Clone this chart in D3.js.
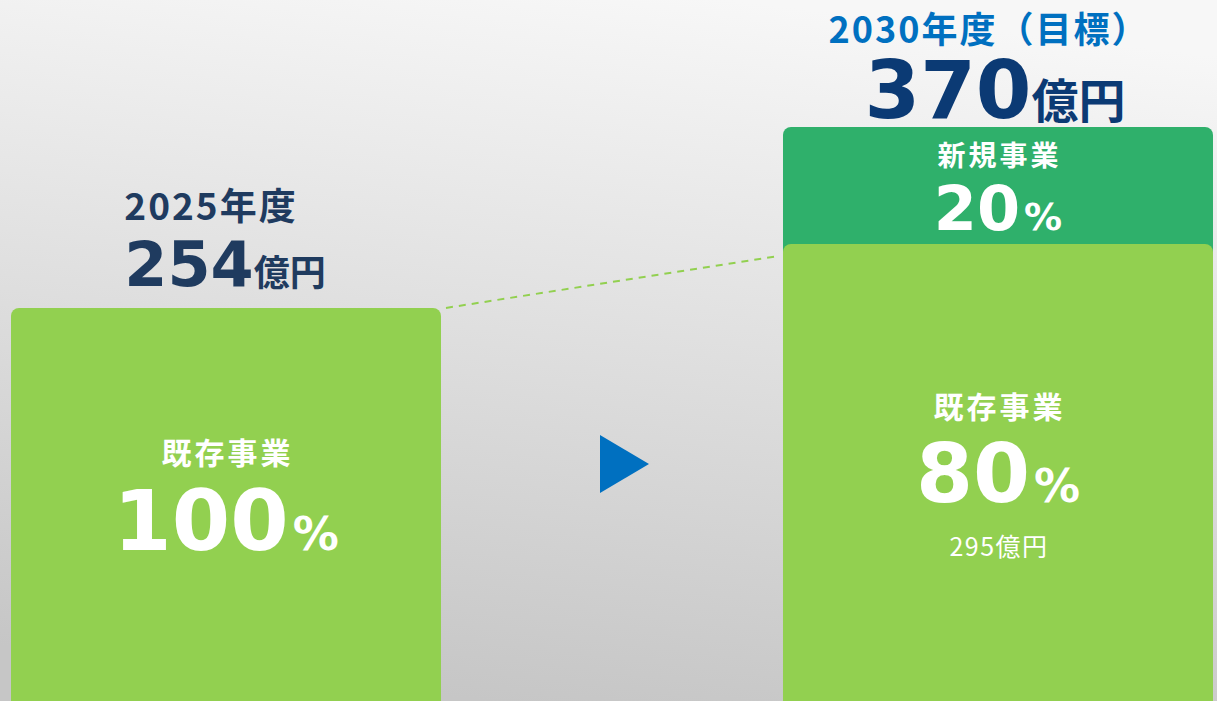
<!DOCTYPE html>
<html>
<head>
<meta charset="utf-8">
<script src="https://cdn.jsdelivr.net/npm/d3@7"></script>
<style>
  html, body { margin: 0; padding: 0; overflow: hidden; }
  svg { display: block; }
</style>
</head>
<body>
<div id="chart"></div>
<script>
// values (億円)
const years = ["2025年度", "2030年度（目標）"];
const existing = [254, 295];
const newBiz = [0, 75];
const totals = [254, 370];
const existingPct = [100, 80];
const newPct = [null, 20];
const segNames = ["既存事業", "新規事業"];

const width = 1217;
const height = 701;

const light = "#92d050";
const dark = "#2fb06b";
const navy = "#1f3b5f";
const blue = "#0070c0";
const numFont = "'DejaVu Sans', 'Noto Sans CJK JP', sans-serif";
const jpFont = "'Noto Sans CJK JP', sans-serif";

const svg = d3.select("#chart").append("svg")
  .attr("width", width)
  .attr("height", height);

// background
const defs = svg.append("defs");
const bg = defs.append("linearGradient").attr("id", "bg")
  .attr("x1", "0.6").attr("y1", "0").attr("x2", "0.4").attr("y2", "1");
bg.append("stop").attr("offset", "0%").attr("stop-color", "#f7f7f7");
bg.append("stop").attr("offset", "100%").attr("stop-color", "#c6c6c6");
svg.append("rect").attr("width", width).attr("height", height).attr("fill", "url(#bg)");

const x = d3.scaleBand()
  .domain(years)
  .range([11, 1213])
  .paddingInner(0.443);

const y = d3.scaleLinear()
  .domain([0, 370])
  .range([704, 127]);

const bw = x.bandwidth();

// new business segment (sits on top, drawn first so existing overlaps it)
svg.selectAll("rect.new")
  .data(years.filter((d, i) => newBiz[i] > 0))
  .enter().append("rect")
  .attr("class", "new")
  .attr("x", d => x(d))
  .attr("y", d => y(totals[years.indexOf(d)]))
  .attr("width", bw)
  .attr("height", d => y(0) - y(totals[years.indexOf(d)]) + 20)
  .attr("rx", 8).attr("ry", 8)
  .attr("fill", dark);

svg.selectAll("rect.existing")
  .data(years)
  .enter().append("rect")
  .attr("class", "existing")
  .attr("x", d => x(d))
  .attr("y", (d, i) => y(existing[i]))
  .attr("width", bw)
  .attr("height", (d, i) => y(0) - y(existing[i]) + 20)
  .attr("rx", 8).attr("ry", 8)
  .attr("fill", light);

// dashed connector
svg.append("line")
  .attr("x1", x(years[0]) + bw + 5)
  .attr("y1", y(existing[0]))
  .attr("x2", x(years[1]) - 4)
  .attr("y2", y(existing[1]) + 12)
  .attr("stroke", light)
  .attr("stroke-width", 2)
  .attr("stroke-dasharray", "7,6");

// arrow
const ax = (x(years[0]) + bw + x(years[1])) / 2;
svg.append("path")
  .attr("d", d3.line()([[ax - 12, 435], [ax + 37, 464], [ax - 12, 493]]) + "Z")
  .attr("fill", blue);

// headers
const cx = years.map(d => x(d) + bw / 2);

svg.append("text")
  .attr("x", cx[0] - 15).attr("y", y(totals[0]) - 88)
  .attr("text-anchor", "middle")
  .attr("font-family", jpFont).attr("font-weight", 700)
  .attr("font-size", 37).attr("letter-spacing", 2).attr("fill", navy)
  .text(years[0]);

const t0 = svg.append("text")
  .attr("x", cx[0] - 1).attr("y", y(totals[0]) - 22)
  .attr("text-anchor", "middle")
  .attr("fill", navy).attr("font-weight", 700);
t0.append("tspan").attr("font-family", numFont).attr("font-size", 62).text(totals[0]);
t0.append("tspan").attr("font-family", jpFont).attr("font-size", 36).text("億円");

svg.append("text")
  .attr("x", cx[1] - 9).attr("y", 43)
  .attr("text-anchor", "middle")
  .attr("font-family", jpFont).attr("font-weight", 700)
  .attr("font-size", 36).attr("letter-spacing", 2).attr("fill", blue)
  .text(years[1]);

const t1 = svg.append("text")
  .attr("x", cx[1] - 3).attr("y", y(totals[1]) - 9)
  .attr("text-anchor", "middle")
  .attr("fill", "#0b3a74").attr("font-weight", 700);
t1.append("tspan").attr("font-family", numFont).attr("font-size", 80).text(totals[1]);
t1.append("tspan").attr("font-family", jpFont).attr("font-size", 47).text("億円");

// segment labels
function pctLabel(px, py, val, big, small) {
  const t = svg.append("text")
    .attr("x", px).attr("y", py)
    .attr("text-anchor", "middle")
    .attr("fill", "#fff").attr("font-family", numFont).attr("font-weight", 700);
  t.append("tspan").attr("font-size", big).text(val);
  t.append("tspan").attr("font-size", small).attr("dx", 4).text("%");
}

function segName(px, py, name, size) {
  svg.append("text")
    .attr("x", px + 1.5).attr("y", py)
    .attr("text-anchor", "middle")
    .attr("fill", "#fff").attr("font-family", jpFont).attr("font-weight", 700)
    .attr("font-size", size).attr("letter-spacing", 3)
    .text(name);
}

// left bar
segName(cx[0], y(existing[0]) + 156, segNames[0], 30);
pctLabel(cx[0], y(existing[0]) + 242, existingPct[0], 84, 46);

// right bar, existing
segName(cx[1], y(existing[1]) + 174, segNames[0], 30);
pctLabel(cx[1], y(existing[1]) + 258, existingPct[1], 82, 46);
svg.append("text")
  .attr("x", cx[1] + 1).attr("y", y(existing[1]) + 312)
  .attr("text-anchor", "middle")
  .attr("fill", "#fff").attr("font-family", jpFont).attr("font-weight", 400)
  .attr("font-size", 25).attr("letter-spacing", 1.5)
  .text(existing[1] + "億円");

// right bar, new
segName(cx[1], y(totals[1]) + 39, segNames[1], 28);
pctLabel(cx[1], y(totals[1]) + 103, newPct[1], 62, 38);
</script>
</body>
</html>
